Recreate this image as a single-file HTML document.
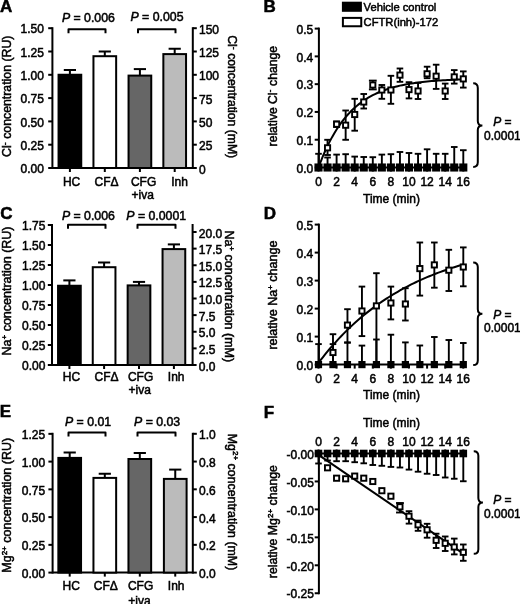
<!DOCTYPE html>
<html><head><meta charset="utf-8"><style>
html,body{margin:0;padding:0;background:#fff;overflow:hidden;}
svg{display:block;will-change:transform;}
text{font-family:"Liberation Sans", sans-serif;fill:#000;}
</style></head><body>
<svg width="520" height="604" viewBox="0 0 520 604">
<rect width="520" height="604" fill="#fff"/>
<text x="0.00" y="12.20" font-size="17" text-anchor="start" font-weight="bold" font-style="normal" stroke="#000" stroke-width="0.5">A</text>
<line x1="52.40" y1="27.20" x2="52.40" y2="169.00" stroke="#000" stroke-width="2.0"/>
<line x1="48.20" y1="168.00" x2="52.40" y2="168.00" stroke="#000" stroke-width="2.0"/>
<text x="43.90" y="173.20" font-size="12" text-anchor="end" font-weight="normal" font-style="normal" stroke="#000" stroke-width="0.5">0.00</text>
<line x1="48.20" y1="144.70" x2="52.40" y2="144.70" stroke="#000" stroke-width="2.0"/>
<text x="43.90" y="149.90" font-size="12" text-anchor="end" font-weight="normal" font-style="normal" stroke="#000" stroke-width="0.5">0.25</text>
<line x1="48.20" y1="121.40" x2="52.40" y2="121.40" stroke="#000" stroke-width="2.0"/>
<text x="43.90" y="126.60" font-size="12" text-anchor="end" font-weight="normal" font-style="normal" stroke="#000" stroke-width="0.5">0.50</text>
<line x1="48.20" y1="98.10" x2="52.40" y2="98.10" stroke="#000" stroke-width="2.0"/>
<text x="43.90" y="103.30" font-size="12" text-anchor="end" font-weight="normal" font-style="normal" stroke="#000" stroke-width="0.5">0.75</text>
<line x1="48.20" y1="74.80" x2="52.40" y2="74.80" stroke="#000" stroke-width="2.0"/>
<text x="43.90" y="80.00" font-size="12" text-anchor="end" font-weight="normal" font-style="normal" stroke="#000" stroke-width="0.5">1.00</text>
<line x1="48.20" y1="51.50" x2="52.40" y2="51.50" stroke="#000" stroke-width="2.0"/>
<text x="43.90" y="56.70" font-size="12" text-anchor="end" font-weight="normal" font-style="normal" stroke="#000" stroke-width="0.5">1.25</text>
<line x1="48.20" y1="28.20" x2="52.40" y2="28.20" stroke="#000" stroke-width="2.0"/>
<text x="43.90" y="33.40" font-size="12" text-anchor="end" font-weight="normal" font-style="normal" stroke="#000" stroke-width="0.5">1.50</text>
<line x1="192.80" y1="27.20" x2="192.80" y2="169.00" stroke="#000" stroke-width="2.0"/>
<line x1="192.80" y1="168.00" x2="196.80" y2="168.00" stroke="#000" stroke-width="2.0"/>
<text x="199.00" y="173.50" font-size="12" text-anchor="start" font-weight="normal" font-style="normal" stroke="#000" stroke-width="0.5">0</text>
<line x1="192.80" y1="144.70" x2="196.80" y2="144.70" stroke="#000" stroke-width="2.0"/>
<text x="199.00" y="150.20" font-size="12" text-anchor="start" font-weight="normal" font-style="normal" stroke="#000" stroke-width="0.5">25</text>
<line x1="192.80" y1="121.40" x2="196.80" y2="121.40" stroke="#000" stroke-width="2.0"/>
<text x="199.00" y="126.90" font-size="12" text-anchor="start" font-weight="normal" font-style="normal" stroke="#000" stroke-width="0.5">50</text>
<line x1="192.80" y1="98.10" x2="196.80" y2="98.10" stroke="#000" stroke-width="2.0"/>
<text x="199.00" y="103.60" font-size="12" text-anchor="start" font-weight="normal" font-style="normal" stroke="#000" stroke-width="0.5">75</text>
<line x1="192.80" y1="74.80" x2="196.80" y2="74.80" stroke="#000" stroke-width="2.0"/>
<text x="199.00" y="80.30" font-size="12" text-anchor="start" font-weight="normal" font-style="normal" stroke="#000" stroke-width="0.5">100</text>
<line x1="192.80" y1="51.50" x2="196.80" y2="51.50" stroke="#000" stroke-width="2.0"/>
<text x="199.00" y="57.00" font-size="12" text-anchor="start" font-weight="normal" font-style="normal" stroke="#000" stroke-width="0.5">125</text>
<line x1="192.80" y1="28.20" x2="196.80" y2="28.20" stroke="#000" stroke-width="2.0"/>
<text x="199.00" y="33.70" font-size="12" text-anchor="start" font-weight="normal" font-style="normal" stroke="#000" stroke-width="0.5">150</text>
<line x1="52.40" y1="168.00" x2="192.80" y2="168.00" stroke="#000" stroke-width="2.0"/>
<line x1="69.90" y1="168.00" x2="69.90" y2="172.00" stroke="#000" stroke-width="2.0"/>
<line x1="69.90" y1="74.75" x2="69.90" y2="70.00" stroke="#000" stroke-width="2.0"/>
<line x1="63.80" y1="70.00" x2="76.00" y2="70.00" stroke="#000" stroke-width="2.0"/>
<rect x="58.55" y="74.75" width="22.70" height="93.25" fill="#000" stroke="#000" stroke-width="2"/>
<line x1="104.80" y1="168.00" x2="104.80" y2="172.00" stroke="#000" stroke-width="2.0"/>
<line x1="104.80" y1="56.20" x2="104.80" y2="51.50" stroke="#000" stroke-width="2.0"/>
<line x1="98.70" y1="51.50" x2="110.90" y2="51.50" stroke="#000" stroke-width="2.0"/>
<rect x="93.45" y="56.20" width="22.70" height="111.80" fill="#fff" stroke="#000" stroke-width="2"/>
<line x1="139.90" y1="168.00" x2="139.90" y2="172.00" stroke="#000" stroke-width="2.0"/>
<line x1="139.90" y1="75.60" x2="139.90" y2="69.10" stroke="#000" stroke-width="2.0"/>
<line x1="133.80" y1="69.10" x2="146.00" y2="69.10" stroke="#000" stroke-width="2.0"/>
<rect x="128.55" y="75.60" width="22.70" height="92.40" fill="#666" stroke="#000" stroke-width="2"/>
<line x1="174.70" y1="168.00" x2="174.70" y2="172.00" stroke="#000" stroke-width="2.0"/>
<line x1="174.70" y1="54.10" x2="174.70" y2="48.75" stroke="#000" stroke-width="2.0"/>
<line x1="168.60" y1="48.75" x2="180.80" y2="48.75" stroke="#000" stroke-width="2.0"/>
<rect x="163.35" y="54.10" width="22.70" height="113.90" fill="#bbb" stroke="#000" stroke-width="2"/>
<polyline points="68.50,33.25 68.50,29.25 105.50,29.25 105.50,33.25" fill="none" stroke="#000" stroke-width="2.0" stroke-linejoin="round"/>
<polyline points="138.00,33.25 138.00,29.25 175.50,29.25 175.50,33.25" fill="none" stroke="#000" stroke-width="2.0" stroke-linejoin="round"/>
<text x="88.40" y="21.80" font-size="12.3" text-anchor="middle" font-weight="normal" font-style="normal" stroke="#000" stroke-width="0.5"><tspan font-style="italic">P</tspan> = 0.006</text>
<text x="157.00" y="20.60" font-size="12.3" text-anchor="middle" font-weight="normal" font-style="normal" stroke="#000" stroke-width="0.5"><tspan font-style="italic">P</tspan> = 0.005</text>
<text x="71.60" y="185.50" font-size="12" text-anchor="middle" font-weight="normal" font-style="normal" stroke="#000" stroke-width="0.5">HC</text>
<text x="106.50" y="185.50" font-size="12" text-anchor="middle" font-weight="normal" font-style="normal" stroke="#000" stroke-width="0.5">CF&#916;</text>
<text x="143.60" y="185.50" font-size="12" text-anchor="middle" font-weight="normal" font-style="normal" stroke="#000" stroke-width="0.5">CFG</text>
<text x="179.50" y="185.50" font-size="12" text-anchor="middle" font-weight="normal" font-style="normal" stroke="#000" stroke-width="0.5">Inh</text>
<text x="142.80" y="199.30" font-size="12" text-anchor="middle" font-weight="normal" font-style="normal" stroke="#000" stroke-width="0.5">+iva</text>
<text x="11.40" y="96.30" font-size="12.3" text-anchor="middle" font-weight="normal" font-style="normal" stroke="#000" stroke-width="0.5" transform="rotate(-90 11.40 96.30)">Cl<tspan dy="-3.4" font-size="9">-</tspan><tspan dy="3.4" font-size="12.5"> </tspan>concentration (RU)</text>
<text x="228.00" y="96.70" font-size="12.2" text-anchor="middle" font-weight="normal" font-style="normal" stroke="#000" stroke-width="0.5" transform="rotate(90 228.00 96.70)">Cl<tspan dy="-3.4" font-size="9">-</tspan><tspan dy="3.4" font-size="12.5"> </tspan>concentration (mM)</text>
<text x="0.25" y="218.70" font-size="17" text-anchor="start" font-weight="bold" font-style="normal" stroke="#000" stroke-width="0.5">C</text>
<line x1="52.00" y1="224.00" x2="52.00" y2="366.00" stroke="#000" stroke-width="2.0"/>
<line x1="47.80" y1="365.00" x2="52.00" y2="365.00" stroke="#000" stroke-width="2.0"/>
<text x="45.40" y="370.20" font-size="12" text-anchor="end" font-weight="normal" font-style="normal" stroke="#000" stroke-width="0.5">0.00</text>
<line x1="47.80" y1="345.00" x2="52.00" y2="345.00" stroke="#000" stroke-width="2.0"/>
<text x="45.40" y="350.20" font-size="12" text-anchor="end" font-weight="normal" font-style="normal" stroke="#000" stroke-width="0.5">0.25</text>
<line x1="47.80" y1="325.00" x2="52.00" y2="325.00" stroke="#000" stroke-width="2.0"/>
<text x="45.40" y="330.20" font-size="12" text-anchor="end" font-weight="normal" font-style="normal" stroke="#000" stroke-width="0.5">0.50</text>
<line x1="47.80" y1="305.00" x2="52.00" y2="305.00" stroke="#000" stroke-width="2.0"/>
<text x="45.40" y="310.20" font-size="12" text-anchor="end" font-weight="normal" font-style="normal" stroke="#000" stroke-width="0.5">0.75</text>
<line x1="47.80" y1="285.00" x2="52.00" y2="285.00" stroke="#000" stroke-width="2.0"/>
<text x="45.40" y="290.20" font-size="12" text-anchor="end" font-weight="normal" font-style="normal" stroke="#000" stroke-width="0.5">1.00</text>
<line x1="47.80" y1="265.00" x2="52.00" y2="265.00" stroke="#000" stroke-width="2.0"/>
<text x="45.40" y="270.20" font-size="12" text-anchor="end" font-weight="normal" font-style="normal" stroke="#000" stroke-width="0.5">1.25</text>
<line x1="47.80" y1="245.00" x2="52.00" y2="245.00" stroke="#000" stroke-width="2.0"/>
<text x="45.40" y="250.20" font-size="12" text-anchor="end" font-weight="normal" font-style="normal" stroke="#000" stroke-width="0.5">1.50</text>
<line x1="47.80" y1="225.00" x2="52.00" y2="225.00" stroke="#000" stroke-width="2.0"/>
<text x="45.40" y="230.20" font-size="12" text-anchor="end" font-weight="normal" font-style="normal" stroke="#000" stroke-width="0.5">1.75</text>
<line x1="192.60" y1="224.00" x2="192.60" y2="366.00" stroke="#000" stroke-width="2.0"/>
<line x1="192.60" y1="365.00" x2="196.60" y2="365.00" stroke="#000" stroke-width="2.0"/>
<text x="198.80" y="370.50" font-size="12" text-anchor="start" font-weight="normal" font-style="normal" stroke="#000" stroke-width="0.5">0.0</text>
<line x1="192.60" y1="348.38" x2="196.60" y2="348.38" stroke="#000" stroke-width="2.0"/>
<text x="198.80" y="353.88" font-size="12" text-anchor="start" font-weight="normal" font-style="normal" stroke="#000" stroke-width="0.5">2.5</text>
<line x1="192.60" y1="331.75" x2="196.60" y2="331.75" stroke="#000" stroke-width="2.0"/>
<text x="198.80" y="337.25" font-size="12" text-anchor="start" font-weight="normal" font-style="normal" stroke="#000" stroke-width="0.5">5.0</text>
<line x1="192.60" y1="315.12" x2="196.60" y2="315.12" stroke="#000" stroke-width="2.0"/>
<text x="198.80" y="320.62" font-size="12" text-anchor="start" font-weight="normal" font-style="normal" stroke="#000" stroke-width="0.5">7.5</text>
<line x1="192.60" y1="298.50" x2="196.60" y2="298.50" stroke="#000" stroke-width="2.0"/>
<text x="198.80" y="304.00" font-size="12" text-anchor="start" font-weight="normal" font-style="normal" stroke="#000" stroke-width="0.5">10.0</text>
<line x1="192.60" y1="281.88" x2="196.60" y2="281.88" stroke="#000" stroke-width="2.0"/>
<text x="198.80" y="287.38" font-size="12" text-anchor="start" font-weight="normal" font-style="normal" stroke="#000" stroke-width="0.5">12.5</text>
<line x1="192.60" y1="265.25" x2="196.60" y2="265.25" stroke="#000" stroke-width="2.0"/>
<text x="198.80" y="270.75" font-size="12" text-anchor="start" font-weight="normal" font-style="normal" stroke="#000" stroke-width="0.5">15.0</text>
<line x1="192.60" y1="248.62" x2="196.60" y2="248.62" stroke="#000" stroke-width="2.0"/>
<text x="198.80" y="254.12" font-size="12" text-anchor="start" font-weight="normal" font-style="normal" stroke="#000" stroke-width="0.5">17.5</text>
<line x1="192.60" y1="232.00" x2="196.60" y2="232.00" stroke="#000" stroke-width="2.0"/>
<text x="198.80" y="237.50" font-size="12" text-anchor="start" font-weight="normal" font-style="normal" stroke="#000" stroke-width="0.5">20.0</text>
<line x1="52.00" y1="365.00" x2="192.60" y2="365.00" stroke="#000" stroke-width="2.0"/>
<line x1="69.40" y1="365.00" x2="69.40" y2="369.00" stroke="#000" stroke-width="2.0"/>
<line x1="69.40" y1="285.75" x2="69.40" y2="280.40" stroke="#000" stroke-width="2.0"/>
<line x1="63.30" y1="280.40" x2="75.50" y2="280.40" stroke="#000" stroke-width="2.0"/>
<rect x="58.05" y="285.75" width="22.70" height="79.25" fill="#000" stroke="#000" stroke-width="2"/>
<line x1="104.10" y1="365.00" x2="104.10" y2="369.00" stroke="#000" stroke-width="2.0"/>
<line x1="104.10" y1="267.20" x2="104.10" y2="262.50" stroke="#000" stroke-width="2.0"/>
<line x1="98.00" y1="262.50" x2="110.20" y2="262.50" stroke="#000" stroke-width="2.0"/>
<rect x="92.75" y="267.20" width="22.70" height="97.80" fill="#fff" stroke="#000" stroke-width="2"/>
<line x1="139.00" y1="365.00" x2="139.00" y2="369.00" stroke="#000" stroke-width="2.0"/>
<line x1="139.00" y1="285.40" x2="139.00" y2="281.90" stroke="#000" stroke-width="2.0"/>
<line x1="132.90" y1="281.90" x2="145.10" y2="281.90" stroke="#000" stroke-width="2.0"/>
<rect x="127.65" y="285.40" width="22.70" height="79.60" fill="#666" stroke="#000" stroke-width="2"/>
<line x1="173.90" y1="365.00" x2="173.90" y2="369.00" stroke="#000" stroke-width="2.0"/>
<line x1="173.90" y1="249.10" x2="173.90" y2="244.40" stroke="#000" stroke-width="2.0"/>
<line x1="167.80" y1="244.40" x2="180.00" y2="244.40" stroke="#000" stroke-width="2.0"/>
<rect x="162.55" y="249.10" width="22.70" height="115.90" fill="#bbb" stroke="#000" stroke-width="2"/>
<polyline points="68.00,228.75 68.00,224.75 105.50,224.75 105.50,228.75" fill="none" stroke="#000" stroke-width="2.0" stroke-linejoin="round"/>
<polyline points="137.50,228.75 137.50,224.75 175.50,224.75 175.50,228.75" fill="none" stroke="#000" stroke-width="2.0" stroke-linejoin="round"/>
<text x="88.40" y="220.40" font-size="12.3" text-anchor="middle" font-weight="normal" font-style="normal" stroke="#000" stroke-width="0.5"><tspan font-style="italic">P</tspan> = 0.006</text>
<text x="156.20" y="220.40" font-size="12.3" text-anchor="middle" font-weight="normal" font-style="normal" stroke="#000" stroke-width="0.5"><tspan font-style="italic">P</tspan> = 0.0001</text>
<text x="71.50" y="380.80" font-size="12" text-anchor="middle" font-weight="normal" font-style="normal" stroke="#000" stroke-width="0.5">HC</text>
<text x="106.60" y="380.80" font-size="12" text-anchor="middle" font-weight="normal" font-style="normal" stroke="#000" stroke-width="0.5">CF&#916;</text>
<text x="140.60" y="380.80" font-size="12" text-anchor="middle" font-weight="normal" font-style="normal" stroke="#000" stroke-width="0.5">CFG</text>
<text x="176.20" y="380.80" font-size="12" text-anchor="middle" font-weight="normal" font-style="normal" stroke="#000" stroke-width="0.5">Inh</text>
<text x="139.70" y="394.30" font-size="12" text-anchor="middle" font-weight="normal" font-style="normal" stroke="#000" stroke-width="0.5">+iva</text>
<text x="11.40" y="291.00" font-size="12.5" text-anchor="middle" font-weight="normal" font-style="normal" stroke="#000" stroke-width="0.5" transform="rotate(-90 11.40 291.00)">Na<tspan dy="-4.2" font-size="8">+</tspan><tspan dy="4.2" font-size="12.5"> </tspan>concentration (RU)</text>
<text x="225.00" y="296.30" font-size="12.5" text-anchor="middle" font-weight="normal" font-style="normal" stroke="#000" stroke-width="0.5" transform="rotate(90 225.00 296.30)">Na<tspan dy="-4.2" font-size="8">+</tspan><tspan dy="4.2" font-size="12.5"> </tspan>concentration (mM)</text>
<text x="-0.24" y="417.20" font-size="17" text-anchor="start" font-weight="bold" font-style="normal" stroke="#000" stroke-width="0.5">E</text>
<line x1="52.60" y1="432.80" x2="52.60" y2="573.60" stroke="#000" stroke-width="2.0"/>
<line x1="48.40" y1="572.60" x2="52.60" y2="572.60" stroke="#000" stroke-width="2.0"/>
<text x="45.20" y="577.80" font-size="12" text-anchor="end" font-weight="normal" font-style="normal" stroke="#000" stroke-width="0.5">0.00</text>
<line x1="48.40" y1="544.85" x2="52.60" y2="544.85" stroke="#000" stroke-width="2.0"/>
<text x="45.20" y="550.05" font-size="12" text-anchor="end" font-weight="normal" font-style="normal" stroke="#000" stroke-width="0.5">0.25</text>
<line x1="48.40" y1="517.10" x2="52.60" y2="517.10" stroke="#000" stroke-width="2.0"/>
<text x="45.20" y="522.30" font-size="12" text-anchor="end" font-weight="normal" font-style="normal" stroke="#000" stroke-width="0.5">0.50</text>
<line x1="48.40" y1="489.35" x2="52.60" y2="489.35" stroke="#000" stroke-width="2.0"/>
<text x="45.20" y="494.55" font-size="12" text-anchor="end" font-weight="normal" font-style="normal" stroke="#000" stroke-width="0.5">0.75</text>
<line x1="48.40" y1="461.60" x2="52.60" y2="461.60" stroke="#000" stroke-width="2.0"/>
<text x="45.20" y="466.80" font-size="12" text-anchor="end" font-weight="normal" font-style="normal" stroke="#000" stroke-width="0.5">1.00</text>
<line x1="48.40" y1="433.85" x2="52.60" y2="433.85" stroke="#000" stroke-width="2.0"/>
<text x="45.20" y="439.05" font-size="12" text-anchor="end" font-weight="normal" font-style="normal" stroke="#000" stroke-width="0.5">1.25</text>
<line x1="192.80" y1="432.80" x2="192.80" y2="573.60" stroke="#000" stroke-width="2.0"/>
<line x1="192.80" y1="572.60" x2="196.80" y2="572.60" stroke="#000" stroke-width="2.0"/>
<text x="199.00" y="578.10" font-size="12" text-anchor="start" font-weight="normal" font-style="normal" stroke="#000" stroke-width="0.5">0.0</text>
<line x1="192.80" y1="544.84" x2="196.80" y2="544.84" stroke="#000" stroke-width="2.0"/>
<text x="199.00" y="550.34" font-size="12" text-anchor="start" font-weight="normal" font-style="normal" stroke="#000" stroke-width="0.5">0.2</text>
<line x1="192.80" y1="517.08" x2="196.80" y2="517.08" stroke="#000" stroke-width="2.0"/>
<text x="199.00" y="522.58" font-size="12" text-anchor="start" font-weight="normal" font-style="normal" stroke="#000" stroke-width="0.5">0.4</text>
<line x1="192.80" y1="489.32" x2="196.80" y2="489.32" stroke="#000" stroke-width="2.0"/>
<text x="199.00" y="494.82" font-size="12" text-anchor="start" font-weight="normal" font-style="normal" stroke="#000" stroke-width="0.5">0.6</text>
<line x1="192.80" y1="461.56" x2="196.80" y2="461.56" stroke="#000" stroke-width="2.0"/>
<text x="199.00" y="467.06" font-size="12" text-anchor="start" font-weight="normal" font-style="normal" stroke="#000" stroke-width="0.5">0.8</text>
<line x1="192.80" y1="433.80" x2="196.80" y2="433.80" stroke="#000" stroke-width="2.0"/>
<text x="199.00" y="439.30" font-size="12" text-anchor="start" font-weight="normal" font-style="normal" stroke="#000" stroke-width="0.5">1.0</text>
<line x1="52.60" y1="572.60" x2="192.80" y2="572.60" stroke="#000" stroke-width="2.0"/>
<line x1="69.70" y1="572.60" x2="69.70" y2="576.60" stroke="#000" stroke-width="2.0"/>
<line x1="69.70" y1="457.90" x2="69.70" y2="452.50" stroke="#000" stroke-width="2.0"/>
<line x1="63.60" y1="452.50" x2="75.80" y2="452.50" stroke="#000" stroke-width="2.0"/>
<rect x="58.35" y="457.90" width="22.70" height="114.70" fill="#000" stroke="#000" stroke-width="2"/>
<line x1="104.80" y1="572.60" x2="104.80" y2="576.60" stroke="#000" stroke-width="2.0"/>
<line x1="104.80" y1="477.90" x2="104.80" y2="473.75" stroke="#000" stroke-width="2.0"/>
<line x1="98.70" y1="473.75" x2="110.90" y2="473.75" stroke="#000" stroke-width="2.0"/>
<rect x="93.45" y="477.90" width="22.70" height="94.70" fill="#fff" stroke="#000" stroke-width="2"/>
<line x1="139.80" y1="572.60" x2="139.80" y2="576.60" stroke="#000" stroke-width="2.0"/>
<line x1="139.80" y1="459.00" x2="139.80" y2="453.00" stroke="#000" stroke-width="2.0"/>
<line x1="133.70" y1="453.00" x2="145.90" y2="453.00" stroke="#000" stroke-width="2.0"/>
<rect x="128.45" y="459.00" width="22.70" height="113.60" fill="#666" stroke="#000" stroke-width="2"/>
<line x1="175.25" y1="572.60" x2="175.25" y2="576.60" stroke="#000" stroke-width="2.0"/>
<line x1="175.25" y1="478.90" x2="175.25" y2="469.60" stroke="#000" stroke-width="2.0"/>
<line x1="169.15" y1="469.60" x2="181.35" y2="469.60" stroke="#000" stroke-width="2.0"/>
<rect x="163.90" y="478.90" width="22.70" height="93.70" fill="#bbb" stroke="#000" stroke-width="2"/>
<polyline points="68.50,436.50 68.50,432.50 105.50,432.50 105.50,436.50" fill="none" stroke="#000" stroke-width="2.0" stroke-linejoin="round"/>
<polyline points="137.50,436.50 137.50,432.50 175.50,432.50 175.50,436.50" fill="none" stroke="#000" stroke-width="2.0" stroke-linejoin="round"/>
<text x="88.00" y="426.40" font-size="12.3" text-anchor="middle" font-weight="normal" font-style="normal" stroke="#000" stroke-width="0.5"><tspan font-style="italic">P</tspan> = 0.01</text>
<text x="157.10" y="426.40" font-size="12.3" text-anchor="middle" font-weight="normal" font-style="normal" stroke="#000" stroke-width="0.5"><tspan font-style="italic">P</tspan> = 0.03</text>
<text x="71.20" y="589.80" font-size="12" text-anchor="middle" font-weight="normal" font-style="normal" stroke="#000" stroke-width="0.5">HC</text>
<text x="105.80" y="589.80" font-size="12" text-anchor="middle" font-weight="normal" font-style="normal" stroke="#000" stroke-width="0.5">CF&#916;</text>
<text x="140.60" y="589.80" font-size="12" text-anchor="middle" font-weight="normal" font-style="normal" stroke="#000" stroke-width="0.5">CFG</text>
<text x="176.20" y="589.80" font-size="12" text-anchor="middle" font-weight="normal" font-style="normal" stroke="#000" stroke-width="0.5">Inh</text>
<text x="139.50" y="604.50" font-size="12" text-anchor="middle" font-weight="normal" font-style="normal" stroke="#000" stroke-width="0.5">+iva</text>
<text x="11.40" y="505.30" font-size="12.5" text-anchor="middle" font-weight="normal" font-style="normal" stroke="#000" stroke-width="0.5" transform="rotate(-90 11.40 505.30)">Mg<tspan dy="-4.2" font-size="8">2+</tspan><tspan dy="4.2" font-size="12.5"> </tspan>concentration (RU)</text>
<text x="228.30" y="502.00" font-size="12.4" text-anchor="middle" font-weight="normal" font-style="normal" stroke="#000" stroke-width="0.5" transform="rotate(90 228.30 502.00)">Mg<tspan dy="-4.2" font-size="8">2+</tspan><tspan dy="4.2" font-size="12.5"> </tspan>concentration (mM)</text>
<text x="263.60" y="12.20" font-size="17" text-anchor="start" font-weight="bold" font-style="normal" stroke="#000" stroke-width="0.5">B</text>
<rect x="341.90" y="1.70" width="20.00" height="10.10" fill="#000"/>
<text x="363.60" y="11.20" font-size="11.2" text-anchor="start" font-weight="normal" font-style="normal" stroke="#000" stroke-width="0.5">Vehicle control</text>
<rect x="342.90" y="17.90" width="18.35" height="8.35" fill="#fff" stroke="#000" stroke-width="2"/>
<text x="363.60" y="25.90" font-size="11.2" text-anchor="start" font-weight="normal" font-style="normal" stroke="#000" stroke-width="0.5">CFTR(inh)-172</text>
<line x1="318.90" y1="27.60" x2="318.90" y2="168.50" stroke="#000" stroke-width="2.0"/>
<line x1="314.70" y1="167.50" x2="318.90" y2="167.50" stroke="#000" stroke-width="2.0"/>
<text x="313.30" y="172.70" font-size="12" text-anchor="end" font-weight="normal" font-style="normal" stroke="#000" stroke-width="0.5">0.0</text>
<line x1="314.70" y1="139.72" x2="318.90" y2="139.72" stroke="#000" stroke-width="2.0"/>
<text x="313.30" y="144.92" font-size="12" text-anchor="end" font-weight="normal" font-style="normal" stroke="#000" stroke-width="0.5">0.1</text>
<line x1="314.70" y1="111.94" x2="318.90" y2="111.94" stroke="#000" stroke-width="2.0"/>
<text x="313.30" y="117.14" font-size="12" text-anchor="end" font-weight="normal" font-style="normal" stroke="#000" stroke-width="0.5">0.2</text>
<line x1="314.70" y1="84.16" x2="318.90" y2="84.16" stroke="#000" stroke-width="2.0"/>
<text x="313.30" y="89.36" font-size="12" text-anchor="end" font-weight="normal" font-style="normal" stroke="#000" stroke-width="0.5">0.3</text>
<line x1="314.70" y1="56.38" x2="318.90" y2="56.38" stroke="#000" stroke-width="2.0"/>
<text x="313.30" y="61.58" font-size="12" text-anchor="end" font-weight="normal" font-style="normal" stroke="#000" stroke-width="0.5">0.4</text>
<line x1="314.70" y1="28.60" x2="318.90" y2="28.60" stroke="#000" stroke-width="2.0"/>
<text x="313.30" y="33.80" font-size="12" text-anchor="end" font-weight="normal" font-style="normal" stroke="#000" stroke-width="0.5">0.5</text>
<line x1="318.90" y1="167.50" x2="464.30" y2="167.50" stroke="#000" stroke-width="2.0"/>
<line x1="318.50" y1="167.50" x2="318.50" y2="171.50" stroke="#000" stroke-width="2.0"/>
<text x="318.50" y="185.80" font-size="12" text-anchor="middle" font-weight="normal" font-style="normal" stroke="#000" stroke-width="0.5">0</text>
<line x1="336.60" y1="167.50" x2="336.60" y2="171.50" stroke="#000" stroke-width="2.0"/>
<text x="336.60" y="185.80" font-size="12" text-anchor="middle" font-weight="normal" font-style="normal" stroke="#000" stroke-width="0.5">2</text>
<line x1="354.70" y1="167.50" x2="354.70" y2="171.50" stroke="#000" stroke-width="2.0"/>
<text x="354.70" y="185.80" font-size="12" text-anchor="middle" font-weight="normal" font-style="normal" stroke="#000" stroke-width="0.5">4</text>
<line x1="372.80" y1="167.50" x2="372.80" y2="171.50" stroke="#000" stroke-width="2.0"/>
<text x="372.80" y="185.80" font-size="12" text-anchor="middle" font-weight="normal" font-style="normal" stroke="#000" stroke-width="0.5">6</text>
<line x1="390.90" y1="167.50" x2="390.90" y2="171.50" stroke="#000" stroke-width="2.0"/>
<text x="390.90" y="185.80" font-size="12" text-anchor="middle" font-weight="normal" font-style="normal" stroke="#000" stroke-width="0.5">8</text>
<line x1="409.00" y1="167.50" x2="409.00" y2="171.50" stroke="#000" stroke-width="2.0"/>
<text x="409.00" y="185.80" font-size="12" text-anchor="middle" font-weight="normal" font-style="normal" stroke="#000" stroke-width="0.5">10</text>
<line x1="427.10" y1="167.50" x2="427.10" y2="171.50" stroke="#000" stroke-width="2.0"/>
<text x="427.10" y="185.80" font-size="12" text-anchor="middle" font-weight="normal" font-style="normal" stroke="#000" stroke-width="0.5">12</text>
<line x1="445.20" y1="167.50" x2="445.20" y2="171.50" stroke="#000" stroke-width="2.0"/>
<text x="445.20" y="185.80" font-size="12" text-anchor="middle" font-weight="normal" font-style="normal" stroke="#000" stroke-width="0.5">14</text>
<line x1="463.30" y1="167.50" x2="463.30" y2="171.50" stroke="#000" stroke-width="2.0"/>
<text x="463.30" y="185.80" font-size="12" text-anchor="middle" font-weight="normal" font-style="normal" stroke="#000" stroke-width="0.5">16</text>
<text x="391.50" y="203.00" font-size="12" text-anchor="middle" font-weight="normal" font-style="normal" stroke="#000" stroke-width="0.5">Time (min)</text>
<text x="276.80" y="96.25" font-size="12.15" text-anchor="middle" font-weight="normal" font-style="normal" stroke="#000" stroke-width="0.5" transform="rotate(-90 276.80 96.25)">relative Cl<tspan dy="-3.4" font-size="9">-</tspan><tspan dy="3.4" font-size="12.5"> </tspan>change</text>
<line x1="318.50" y1="167.50" x2="318.50" y2="153.80" stroke="#000" stroke-width="1.9"/>
<line x1="315.20" y1="153.80" x2="321.80" y2="153.80" stroke="#000" stroke-width="1.9"/>
<line x1="327.55" y1="167.50" x2="327.55" y2="157.50" stroke="#000" stroke-width="1.9"/>
<line x1="324.25" y1="157.50" x2="330.85" y2="157.50" stroke="#000" stroke-width="1.9"/>
<line x1="336.60" y1="167.50" x2="336.60" y2="154.60" stroke="#000" stroke-width="1.9"/>
<line x1="333.30" y1="154.60" x2="339.90" y2="154.60" stroke="#000" stroke-width="1.9"/>
<line x1="345.65" y1="167.50" x2="345.65" y2="154.20" stroke="#000" stroke-width="1.9"/>
<line x1="342.35" y1="154.20" x2="348.95" y2="154.20" stroke="#000" stroke-width="1.9"/>
<line x1="354.70" y1="167.50" x2="354.70" y2="156.60" stroke="#000" stroke-width="1.9"/>
<line x1="351.40" y1="156.60" x2="358.00" y2="156.60" stroke="#000" stroke-width="1.9"/>
<line x1="363.75" y1="167.50" x2="363.75" y2="157.00" stroke="#000" stroke-width="1.9"/>
<line x1="360.45" y1="157.00" x2="367.05" y2="157.00" stroke="#000" stroke-width="1.9"/>
<line x1="372.80" y1="167.50" x2="372.80" y2="157.20" stroke="#000" stroke-width="1.9"/>
<line x1="369.50" y1="157.20" x2="376.10" y2="157.20" stroke="#000" stroke-width="1.9"/>
<line x1="381.85" y1="167.50" x2="381.85" y2="154.60" stroke="#000" stroke-width="1.9"/>
<line x1="378.55" y1="154.60" x2="385.15" y2="154.60" stroke="#000" stroke-width="1.9"/>
<line x1="390.90" y1="167.50" x2="390.90" y2="154.20" stroke="#000" stroke-width="1.9"/>
<line x1="387.60" y1="154.20" x2="394.20" y2="154.20" stroke="#000" stroke-width="1.9"/>
<line x1="399.95" y1="167.50" x2="399.95" y2="152.00" stroke="#000" stroke-width="1.9"/>
<line x1="396.65" y1="152.00" x2="403.25" y2="152.00" stroke="#000" stroke-width="1.9"/>
<line x1="409.00" y1="167.50" x2="409.00" y2="153.00" stroke="#000" stroke-width="1.9"/>
<line x1="405.70" y1="153.00" x2="412.30" y2="153.00" stroke="#000" stroke-width="1.9"/>
<line x1="418.05" y1="167.50" x2="418.05" y2="153.80" stroke="#000" stroke-width="1.9"/>
<line x1="414.75" y1="153.80" x2="421.35" y2="153.80" stroke="#000" stroke-width="1.9"/>
<line x1="427.10" y1="167.50" x2="427.10" y2="149.30" stroke="#000" stroke-width="1.9"/>
<line x1="423.80" y1="149.30" x2="430.40" y2="149.30" stroke="#000" stroke-width="1.9"/>
<line x1="436.15" y1="167.50" x2="436.15" y2="153.80" stroke="#000" stroke-width="1.9"/>
<line x1="432.85" y1="153.80" x2="439.45" y2="153.80" stroke="#000" stroke-width="1.9"/>
<line x1="445.20" y1="167.50" x2="445.20" y2="153.80" stroke="#000" stroke-width="1.9"/>
<line x1="441.90" y1="153.80" x2="448.50" y2="153.80" stroke="#000" stroke-width="1.9"/>
<line x1="454.25" y1="167.50" x2="454.25" y2="147.00" stroke="#000" stroke-width="1.9"/>
<line x1="450.95" y1="147.00" x2="457.55" y2="147.00" stroke="#000" stroke-width="1.9"/>
<line x1="463.30" y1="167.50" x2="463.30" y2="150.20" stroke="#000" stroke-width="1.9"/>
<line x1="460.00" y1="150.20" x2="466.60" y2="150.20" stroke="#000" stroke-width="1.9"/>
<line x1="327.55" y1="139.80" x2="327.55" y2="155.00" stroke="#000" stroke-width="1.9"/>
<line x1="324.25" y1="139.80" x2="330.85" y2="139.80" stroke="#000" stroke-width="1.9"/>
<line x1="324.25" y1="155.00" x2="330.85" y2="155.00" stroke="#000" stroke-width="1.9"/>
<line x1="336.60" y1="121.50" x2="336.60" y2="127.00" stroke="#000" stroke-width="1.9"/>
<line x1="333.30" y1="121.50" x2="339.90" y2="121.50" stroke="#000" stroke-width="1.9"/>
<line x1="333.30" y1="127.00" x2="339.90" y2="127.00" stroke="#000" stroke-width="1.9"/>
<line x1="345.65" y1="110.50" x2="345.65" y2="139.80" stroke="#000" stroke-width="1.9"/>
<line x1="342.35" y1="110.50" x2="348.95" y2="110.50" stroke="#000" stroke-width="1.9"/>
<line x1="342.35" y1="139.80" x2="348.95" y2="139.80" stroke="#000" stroke-width="1.9"/>
<line x1="354.70" y1="98.80" x2="354.70" y2="130.70" stroke="#000" stroke-width="1.9"/>
<line x1="351.40" y1="98.80" x2="358.00" y2="98.80" stroke="#000" stroke-width="1.9"/>
<line x1="351.40" y1="130.70" x2="358.00" y2="130.70" stroke="#000" stroke-width="1.9"/>
<line x1="363.75" y1="94.00" x2="363.75" y2="108.50" stroke="#000" stroke-width="1.9"/>
<line x1="360.45" y1="94.00" x2="367.05" y2="94.00" stroke="#000" stroke-width="1.9"/>
<line x1="360.45" y1="108.50" x2="367.05" y2="108.50" stroke="#000" stroke-width="1.9"/>
<line x1="372.80" y1="80.60" x2="372.80" y2="89.40" stroke="#000" stroke-width="1.9"/>
<line x1="368.90" y1="80.60" x2="376.70" y2="80.60" stroke="#000" stroke-width="1.9"/>
<line x1="368.90" y1="89.40" x2="376.70" y2="89.40" stroke="#000" stroke-width="1.9"/>
<line x1="381.85" y1="85.00" x2="381.85" y2="98.80" stroke="#000" stroke-width="1.9"/>
<line x1="378.55" y1="85.00" x2="385.15" y2="85.00" stroke="#000" stroke-width="1.9"/>
<line x1="378.55" y1="98.80" x2="385.15" y2="98.80" stroke="#000" stroke-width="1.9"/>
<line x1="390.90" y1="75.80" x2="390.90" y2="103.80" stroke="#000" stroke-width="1.9"/>
<line x1="387.60" y1="75.80" x2="394.20" y2="75.80" stroke="#000" stroke-width="1.9"/>
<line x1="387.60" y1="103.80" x2="394.20" y2="103.80" stroke="#000" stroke-width="1.9"/>
<line x1="399.95" y1="68.50" x2="399.95" y2="81.80" stroke="#000" stroke-width="1.9"/>
<line x1="396.65" y1="68.50" x2="403.25" y2="68.50" stroke="#000" stroke-width="1.9"/>
<line x1="396.65" y1="81.80" x2="403.25" y2="81.80" stroke="#000" stroke-width="1.9"/>
<line x1="409.00" y1="82.20" x2="409.00" y2="98.40" stroke="#000" stroke-width="1.9"/>
<line x1="405.70" y1="82.20" x2="412.30" y2="82.20" stroke="#000" stroke-width="1.9"/>
<line x1="405.70" y1="98.40" x2="412.30" y2="98.40" stroke="#000" stroke-width="1.9"/>
<line x1="418.05" y1="82.90" x2="418.05" y2="99.00" stroke="#000" stroke-width="1.9"/>
<line x1="414.75" y1="82.90" x2="421.35" y2="82.90" stroke="#000" stroke-width="1.9"/>
<line x1="414.75" y1="99.00" x2="421.35" y2="99.00" stroke="#000" stroke-width="1.9"/>
<line x1="427.10" y1="66.70" x2="427.10" y2="78.20" stroke="#000" stroke-width="1.9"/>
<line x1="423.80" y1="66.70" x2="430.40" y2="66.70" stroke="#000" stroke-width="1.9"/>
<line x1="423.80" y1="78.20" x2="430.40" y2="78.20" stroke="#000" stroke-width="1.9"/>
<line x1="436.15" y1="64.70" x2="436.15" y2="88.90" stroke="#000" stroke-width="1.9"/>
<line x1="432.85" y1="64.70" x2="439.45" y2="64.70" stroke="#000" stroke-width="1.9"/>
<line x1="432.85" y1="88.90" x2="439.45" y2="88.90" stroke="#000" stroke-width="1.9"/>
<line x1="445.20" y1="83.60" x2="445.20" y2="99.00" stroke="#000" stroke-width="1.9"/>
<line x1="441.90" y1="83.60" x2="448.50" y2="83.60" stroke="#000" stroke-width="1.9"/>
<line x1="441.90" y1="99.00" x2="448.50" y2="99.00" stroke="#000" stroke-width="1.9"/>
<line x1="454.25" y1="70.10" x2="454.25" y2="83.60" stroke="#000" stroke-width="1.9"/>
<line x1="450.95" y1="70.10" x2="457.55" y2="70.10" stroke="#000" stroke-width="1.9"/>
<line x1="450.95" y1="83.60" x2="457.55" y2="83.60" stroke="#000" stroke-width="1.9"/>
<line x1="463.30" y1="71.40" x2="463.30" y2="87.60" stroke="#000" stroke-width="1.9"/>
<line x1="460.00" y1="71.40" x2="466.60" y2="71.40" stroke="#000" stroke-width="1.9"/>
<line x1="460.00" y1="87.60" x2="466.60" y2="87.60" stroke="#000" stroke-width="1.9"/>
<polyline points="318.50,167.50 320.76,161.52 323.02,155.95 325.29,150.74 327.55,145.89 329.81,141.36 332.07,137.14 334.34,133.19 336.60,129.52 338.86,126.09 341.12,122.88 343.39,119.90 345.65,117.11 347.91,114.51 350.18,112.08 352.44,109.82 354.70,107.71 356.96,105.74 359.23,103.90 361.49,102.18 363.75,100.58 366.01,99.09 368.27,97.70 370.54,96.40 372.80,95.18 375.06,94.05 377.32,93.00 379.59,92.01 381.85,91.09 384.11,90.24 386.38,89.44 388.64,88.69 390.90,87.99 393.16,87.34 395.43,86.74 397.69,86.17 399.95,85.65 402.21,85.15 404.48,84.69 406.74,84.27 409.00,83.87 411.26,83.49 413.52,83.14 415.79,82.82 418.05,82.52 420.31,82.23 422.57,81.97 424.84,81.72 427.10,81.50 429.36,81.28 431.62,81.08 433.89,80.89 436.15,80.72 438.41,80.56 440.68,80.41 442.94,80.27 445.20,80.13 447.46,80.01 449.73,79.90 451.99,79.79 454.25,79.69 456.51,79.60 458.77,79.51 461.04,79.43 463.30,79.35" fill="none" stroke="#000" stroke-width="2.0" stroke-linejoin="round"/>
<rect x="314.45" y="163.45" width="8.10" height="8.10" fill="#000"/>
<rect x="323.50" y="163.45" width="8.10" height="8.10" fill="#000"/>
<rect x="332.55" y="163.45" width="8.10" height="8.10" fill="#000"/>
<rect x="341.60" y="163.45" width="8.10" height="8.10" fill="#000"/>
<rect x="350.65" y="163.45" width="8.10" height="8.10" fill="#000"/>
<rect x="359.70" y="163.45" width="8.10" height="8.10" fill="#000"/>
<rect x="368.75" y="163.45" width="8.10" height="8.10" fill="#000"/>
<rect x="377.80" y="163.45" width="8.10" height="8.10" fill="#000"/>
<rect x="386.85" y="163.45" width="8.10" height="8.10" fill="#000"/>
<rect x="395.90" y="163.45" width="8.10" height="8.10" fill="#000"/>
<rect x="404.95" y="163.45" width="8.10" height="8.10" fill="#000"/>
<rect x="414.00" y="163.45" width="8.10" height="8.10" fill="#000"/>
<rect x="423.05" y="163.45" width="8.10" height="8.10" fill="#000"/>
<rect x="432.10" y="163.45" width="8.10" height="8.10" fill="#000"/>
<rect x="441.15" y="163.45" width="8.10" height="8.10" fill="#000"/>
<rect x="450.20" y="163.45" width="8.10" height="8.10" fill="#000"/>
<rect x="459.25" y="163.45" width="8.10" height="8.10" fill="#000"/>
<rect x="324.95" y="145.20" width="5.20" height="5.20" fill="#fff" stroke="#000" stroke-width="1.9"/>
<rect x="334.00" y="121.60" width="5.20" height="5.20" fill="#fff" stroke="#000" stroke-width="1.9"/>
<rect x="343.05" y="122.60" width="5.20" height="5.20" fill="#fff" stroke="#000" stroke-width="1.9"/>
<rect x="352.10" y="111.90" width="5.20" height="5.20" fill="#fff" stroke="#000" stroke-width="1.9"/>
<rect x="361.15" y="99.40" width="5.20" height="5.20" fill="#fff" stroke="#000" stroke-width="1.9"/>
<rect x="370.20" y="82.40" width="5.20" height="5.20" fill="#fff" stroke="#000" stroke-width="1.9"/>
<rect x="379.25" y="87.40" width="5.20" height="5.20" fill="#fff" stroke="#000" stroke-width="1.9"/>
<rect x="388.30" y="87.40" width="5.20" height="5.20" fill="#fff" stroke="#000" stroke-width="1.9"/>
<rect x="397.35" y="72.50" width="5.20" height="5.20" fill="#fff" stroke="#000" stroke-width="1.9"/>
<rect x="406.40" y="87.00" width="5.20" height="5.20" fill="#fff" stroke="#000" stroke-width="1.9"/>
<rect x="415.45" y="88.40" width="5.20" height="5.20" fill="#fff" stroke="#000" stroke-width="1.9"/>
<rect x="424.50" y="71.20" width="5.20" height="5.20" fill="#fff" stroke="#000" stroke-width="1.9"/>
<rect x="433.55" y="73.60" width="5.20" height="5.20" fill="#fff" stroke="#000" stroke-width="1.9"/>
<rect x="442.60" y="88.40" width="5.20" height="5.20" fill="#fff" stroke="#000" stroke-width="1.9"/>
<rect x="451.65" y="74.30" width="5.20" height="5.20" fill="#fff" stroke="#000" stroke-width="1.9"/>
<rect x="460.70" y="76.30" width="5.20" height="5.20" fill="#fff" stroke="#000" stroke-width="1.9"/>
<path d="M473.20,83.30 Q477.80,83.30 477.80,87.90 L477.80,120.90 Q477.80,125.50 482.40,125.50 Q477.80,125.50 477.80,130.10 L477.80,162.30 Q477.80,166.90 473.20,166.90" fill="none" stroke="#000" stroke-width="2"/>
<text x="493.20" y="125.80" font-size="12" text-anchor="start" font-weight="normal" font-style="normal" stroke="#000" stroke-width="0.5"><tspan font-style="italic">P</tspan> =</text>
<text x="484.10" y="139.70" font-size="12" text-anchor="start" font-weight="normal" font-style="normal" stroke="#000" stroke-width="0.5">0.0001</text>
<text x="263.80" y="218.50" font-size="17" text-anchor="start" font-weight="bold" font-style="normal" stroke="#000" stroke-width="0.5">D</text>
<line x1="318.90" y1="223.60" x2="318.90" y2="365.60" stroke="#000" stroke-width="2.0"/>
<line x1="314.70" y1="364.60" x2="318.90" y2="364.60" stroke="#000" stroke-width="2.0"/>
<text x="313.30" y="369.80" font-size="12" text-anchor="end" font-weight="normal" font-style="normal" stroke="#000" stroke-width="0.5">0.0</text>
<line x1="314.70" y1="336.60" x2="318.90" y2="336.60" stroke="#000" stroke-width="2.0"/>
<text x="313.30" y="341.80" font-size="12" text-anchor="end" font-weight="normal" font-style="normal" stroke="#000" stroke-width="0.5">0.1</text>
<line x1="314.70" y1="308.60" x2="318.90" y2="308.60" stroke="#000" stroke-width="2.0"/>
<text x="313.30" y="313.80" font-size="12" text-anchor="end" font-weight="normal" font-style="normal" stroke="#000" stroke-width="0.5">0.2</text>
<line x1="314.70" y1="280.60" x2="318.90" y2="280.60" stroke="#000" stroke-width="2.0"/>
<text x="313.30" y="285.80" font-size="12" text-anchor="end" font-weight="normal" font-style="normal" stroke="#000" stroke-width="0.5">0.3</text>
<line x1="314.70" y1="252.60" x2="318.90" y2="252.60" stroke="#000" stroke-width="2.0"/>
<text x="313.30" y="257.80" font-size="12" text-anchor="end" font-weight="normal" font-style="normal" stroke="#000" stroke-width="0.5">0.4</text>
<line x1="314.70" y1="224.60" x2="318.90" y2="224.60" stroke="#000" stroke-width="2.0"/>
<text x="313.30" y="229.80" font-size="12" text-anchor="end" font-weight="normal" font-style="normal" stroke="#000" stroke-width="0.5">0.5</text>
<line x1="318.90" y1="364.60" x2="464.30" y2="364.60" stroke="#000" stroke-width="2.0"/>
<line x1="318.50" y1="364.60" x2="318.50" y2="368.60" stroke="#000" stroke-width="2.0"/>
<text x="318.50" y="382.50" font-size="12" text-anchor="middle" font-weight="normal" font-style="normal" stroke="#000" stroke-width="0.5">0</text>
<line x1="336.60" y1="364.60" x2="336.60" y2="368.60" stroke="#000" stroke-width="2.0"/>
<text x="336.60" y="382.50" font-size="12" text-anchor="middle" font-weight="normal" font-style="normal" stroke="#000" stroke-width="0.5">2</text>
<line x1="354.70" y1="364.60" x2="354.70" y2="368.60" stroke="#000" stroke-width="2.0"/>
<text x="354.70" y="382.50" font-size="12" text-anchor="middle" font-weight="normal" font-style="normal" stroke="#000" stroke-width="0.5">4</text>
<line x1="372.80" y1="364.60" x2="372.80" y2="368.60" stroke="#000" stroke-width="2.0"/>
<text x="372.80" y="382.50" font-size="12" text-anchor="middle" font-weight="normal" font-style="normal" stroke="#000" stroke-width="0.5">6</text>
<line x1="390.90" y1="364.60" x2="390.90" y2="368.60" stroke="#000" stroke-width="2.0"/>
<text x="390.90" y="382.50" font-size="12" text-anchor="middle" font-weight="normal" font-style="normal" stroke="#000" stroke-width="0.5">8</text>
<line x1="409.00" y1="364.60" x2="409.00" y2="368.60" stroke="#000" stroke-width="2.0"/>
<text x="409.00" y="382.50" font-size="12" text-anchor="middle" font-weight="normal" font-style="normal" stroke="#000" stroke-width="0.5">10</text>
<line x1="427.10" y1="364.60" x2="427.10" y2="368.60" stroke="#000" stroke-width="2.0"/>
<text x="427.10" y="382.50" font-size="12" text-anchor="middle" font-weight="normal" font-style="normal" stroke="#000" stroke-width="0.5">12</text>
<line x1="445.20" y1="364.60" x2="445.20" y2="368.60" stroke="#000" stroke-width="2.0"/>
<text x="445.20" y="382.50" font-size="12" text-anchor="middle" font-weight="normal" font-style="normal" stroke="#000" stroke-width="0.5">14</text>
<line x1="463.30" y1="364.60" x2="463.30" y2="368.60" stroke="#000" stroke-width="2.0"/>
<text x="463.30" y="382.50" font-size="12" text-anchor="middle" font-weight="normal" font-style="normal" stroke="#000" stroke-width="0.5">16</text>
<text x="391.50" y="398.70" font-size="12" text-anchor="middle" font-weight="normal" font-style="normal" stroke="#000" stroke-width="0.5">Time (min)</text>
<text x="276.80" y="295.10" font-size="12.5" text-anchor="middle" font-weight="normal" font-style="normal" stroke="#000" stroke-width="0.5" transform="rotate(-90 276.80 295.10)">relative Na<tspan dy="-4.2" font-size="8">+</tspan><tspan dy="4.2" font-size="12.5"> </tspan>change</text>
<line x1="318.50" y1="364.60" x2="318.50" y2="344.10" stroke="#000" stroke-width="1.9"/>
<line x1="315.20" y1="344.10" x2="321.80" y2="344.10" stroke="#000" stroke-width="1.9"/>
<line x1="332.98" y1="364.60" x2="332.98" y2="344.10" stroke="#000" stroke-width="1.9"/>
<line x1="329.68" y1="344.10" x2="336.28" y2="344.10" stroke="#000" stroke-width="1.9"/>
<line x1="347.46" y1="364.60" x2="347.46" y2="342.70" stroke="#000" stroke-width="1.9"/>
<line x1="344.16" y1="342.70" x2="350.76" y2="342.70" stroke="#000" stroke-width="1.9"/>
<line x1="361.94" y1="364.60" x2="361.94" y2="345.60" stroke="#000" stroke-width="1.9"/>
<line x1="358.64" y1="345.60" x2="365.24" y2="345.60" stroke="#000" stroke-width="1.9"/>
<line x1="376.42" y1="364.60" x2="376.42" y2="339.50" stroke="#000" stroke-width="1.9"/>
<line x1="373.12" y1="339.50" x2="379.72" y2="339.50" stroke="#000" stroke-width="1.9"/>
<line x1="390.90" y1="364.60" x2="390.90" y2="334.70" stroke="#000" stroke-width="1.9"/>
<line x1="387.60" y1="334.70" x2="394.20" y2="334.70" stroke="#000" stroke-width="1.9"/>
<line x1="405.38" y1="364.60" x2="405.38" y2="342.40" stroke="#000" stroke-width="1.9"/>
<line x1="402.08" y1="342.40" x2="408.68" y2="342.40" stroke="#000" stroke-width="1.9"/>
<line x1="419.86" y1="364.60" x2="419.86" y2="345.50" stroke="#000" stroke-width="1.9"/>
<line x1="416.56" y1="345.50" x2="423.16" y2="345.50" stroke="#000" stroke-width="1.9"/>
<line x1="434.34" y1="364.60" x2="434.34" y2="337.00" stroke="#000" stroke-width="1.9"/>
<line x1="431.04" y1="337.00" x2="437.64" y2="337.00" stroke="#000" stroke-width="1.9"/>
<line x1="448.82" y1="364.60" x2="448.82" y2="340.00" stroke="#000" stroke-width="1.9"/>
<line x1="445.52" y1="340.00" x2="452.12" y2="340.00" stroke="#000" stroke-width="1.9"/>
<line x1="463.30" y1="364.60" x2="463.30" y2="343.00" stroke="#000" stroke-width="1.9"/>
<line x1="460.00" y1="343.00" x2="466.60" y2="343.00" stroke="#000" stroke-width="1.9"/>
<line x1="332.98" y1="334.20" x2="332.98" y2="364.00" stroke="#000" stroke-width="1.9"/>
<line x1="329.68" y1="334.20" x2="336.28" y2="334.20" stroke="#000" stroke-width="1.9"/>
<line x1="329.68" y1="364.00" x2="336.28" y2="364.00" stroke="#000" stroke-width="1.9"/>
<line x1="347.46" y1="309.20" x2="347.46" y2="342.40" stroke="#000" stroke-width="1.9"/>
<line x1="344.16" y1="309.20" x2="350.76" y2="309.20" stroke="#000" stroke-width="1.9"/>
<line x1="344.16" y1="342.40" x2="350.76" y2="342.40" stroke="#000" stroke-width="1.9"/>
<line x1="361.94" y1="286.60" x2="361.94" y2="336.10" stroke="#000" stroke-width="1.9"/>
<line x1="358.64" y1="286.60" x2="365.24" y2="286.60" stroke="#000" stroke-width="1.9"/>
<line x1="358.64" y1="336.10" x2="365.24" y2="336.10" stroke="#000" stroke-width="1.9"/>
<line x1="376.42" y1="273.20" x2="376.42" y2="364.00" stroke="#000" stroke-width="1.9"/>
<line x1="373.12" y1="273.20" x2="379.72" y2="273.20" stroke="#000" stroke-width="1.9"/>
<line x1="373.12" y1="364.00" x2="379.72" y2="364.00" stroke="#000" stroke-width="1.9"/>
<line x1="390.90" y1="286.60" x2="390.90" y2="319.40" stroke="#000" stroke-width="1.9"/>
<line x1="387.60" y1="286.60" x2="394.20" y2="286.60" stroke="#000" stroke-width="1.9"/>
<line x1="387.60" y1="319.40" x2="394.20" y2="319.40" stroke="#000" stroke-width="1.9"/>
<line x1="405.38" y1="288.20" x2="405.38" y2="320.50" stroke="#000" stroke-width="1.9"/>
<line x1="402.08" y1="288.20" x2="408.68" y2="288.20" stroke="#000" stroke-width="1.9"/>
<line x1="402.08" y1="320.50" x2="408.68" y2="320.50" stroke="#000" stroke-width="1.9"/>
<line x1="419.86" y1="242.50" x2="419.86" y2="295.60" stroke="#000" stroke-width="1.9"/>
<line x1="416.56" y1="242.50" x2="423.16" y2="242.50" stroke="#000" stroke-width="1.9"/>
<line x1="416.56" y1="295.60" x2="423.16" y2="295.60" stroke="#000" stroke-width="1.9"/>
<line x1="434.34" y1="242.50" x2="434.34" y2="287.70" stroke="#000" stroke-width="1.9"/>
<line x1="431.04" y1="242.50" x2="437.64" y2="242.50" stroke="#000" stroke-width="1.9"/>
<line x1="431.04" y1="287.70" x2="437.64" y2="287.70" stroke="#000" stroke-width="1.9"/>
<line x1="448.82" y1="249.80" x2="448.82" y2="291.00" stroke="#000" stroke-width="1.9"/>
<line x1="445.52" y1="249.80" x2="452.12" y2="249.80" stroke="#000" stroke-width="1.9"/>
<line x1="445.52" y1="291.00" x2="452.12" y2="291.00" stroke="#000" stroke-width="1.9"/>
<line x1="463.30" y1="247.40" x2="463.30" y2="286.30" stroke="#000" stroke-width="1.9"/>
<line x1="460.00" y1="247.40" x2="466.60" y2="247.40" stroke="#000" stroke-width="1.9"/>
<line x1="460.00" y1="286.30" x2="466.60" y2="286.30" stroke="#000" stroke-width="1.9"/>
<polyline points="318.50,362.87 320.76,359.91 323.02,357.03 325.29,354.21 327.55,351.45 329.81,348.76 332.07,346.14 334.34,343.58 336.60,341.07 338.86,338.63 341.12,336.24 343.39,333.91 345.65,331.63 347.91,329.41 350.18,327.24 352.44,325.11 354.70,323.04 356.96,321.02 359.23,319.05 361.49,317.12 363.75,315.24 366.01,313.40 368.27,311.60 370.54,309.85 372.80,308.14 375.06,306.46 377.32,304.83 379.59,303.24 381.85,301.68 384.11,300.16 386.38,298.67 388.64,297.22 390.90,295.81 393.16,294.43 395.43,293.07 397.69,291.76 399.95,290.47 402.21,289.21 404.48,287.98 406.74,286.78 409.00,285.61 411.26,284.47 413.52,283.35 415.79,282.26 418.05,281.20 420.31,280.16 422.57,279.14 424.84,278.15 427.10,277.18 429.36,276.24 431.62,275.31 433.89,274.41 436.15,273.53 438.41,272.67 440.68,271.83 442.94,271.01 445.20,270.21 447.46,269.43 449.73,268.66 451.99,267.92 454.25,267.19 456.51,266.48 458.77,265.79 461.04,265.11 463.30,264.45" fill="none" stroke="#000" stroke-width="2.0" stroke-linejoin="round"/>
<rect x="314.90" y="361.00" width="7.20" height="7.20" fill="#000"/>
<rect x="329.38" y="361.00" width="7.20" height="7.20" fill="#000"/>
<rect x="343.86" y="361.00" width="7.20" height="7.20" fill="#000"/>
<rect x="358.34" y="361.00" width="7.20" height="7.20" fill="#000"/>
<rect x="372.82" y="361.00" width="7.20" height="7.20" fill="#000"/>
<rect x="387.30" y="361.00" width="7.20" height="7.20" fill="#000"/>
<rect x="401.78" y="361.00" width="7.20" height="7.20" fill="#000"/>
<rect x="416.26" y="361.00" width="7.20" height="7.20" fill="#000"/>
<rect x="430.74" y="361.00" width="7.20" height="7.20" fill="#000"/>
<rect x="445.22" y="361.00" width="7.20" height="7.20" fill="#000"/>
<rect x="459.70" y="361.00" width="7.20" height="7.20" fill="#000"/>
<rect x="330.38" y="349.90" width="5.20" height="5.20" fill="#fff" stroke="#000" stroke-width="1.9"/>
<rect x="344.86" y="322.50" width="5.20" height="5.20" fill="#fff" stroke="#000" stroke-width="1.9"/>
<rect x="359.34" y="308.40" width="5.20" height="5.20" fill="#fff" stroke="#000" stroke-width="1.9"/>
<rect x="373.82" y="303.30" width="5.20" height="5.20" fill="#fff" stroke="#000" stroke-width="1.9"/>
<rect x="388.30" y="300.40" width="5.20" height="5.20" fill="#fff" stroke="#000" stroke-width="1.9"/>
<rect x="402.78" y="301.40" width="5.20" height="5.20" fill="#fff" stroke="#000" stroke-width="1.9"/>
<rect x="417.26" y="266.00" width="5.20" height="5.20" fill="#fff" stroke="#000" stroke-width="1.9"/>
<rect x="431.74" y="262.30" width="5.20" height="5.20" fill="#fff" stroke="#000" stroke-width="1.9"/>
<rect x="446.22" y="267.60" width="5.20" height="5.20" fill="#fff" stroke="#000" stroke-width="1.9"/>
<rect x="460.70" y="264.40" width="5.20" height="5.20" fill="#fff" stroke="#000" stroke-width="1.9"/>
<path d="M473.20,262.50 Q477.80,262.50 477.80,267.10 L477.80,309.15 Q477.80,313.75 482.40,313.75 Q477.80,313.75 477.80,318.35 L477.80,360.40 Q477.80,365.00 473.20,365.00" fill="none" stroke="#000" stroke-width="2"/>
<text x="493.20" y="318.50" font-size="12" text-anchor="start" font-weight="normal" font-style="normal" stroke="#000" stroke-width="0.5"><tspan font-style="italic">P</tspan> =</text>
<text x="484.10" y="332.00" font-size="12" text-anchor="start" font-weight="normal" font-style="normal" stroke="#000" stroke-width="0.5">0.0001</text>
<text x="263.80" y="417.50" font-size="17" text-anchor="start" font-weight="bold" font-style="normal" stroke="#000" stroke-width="0.5">F</text>
<text x="391.50" y="427.20" font-size="12" text-anchor="middle" font-weight="normal" font-style="normal" stroke="#000" stroke-width="0.5">Time (min)</text>
<line x1="318.90" y1="452.50" x2="318.90" y2="594.25" stroke="#000" stroke-width="2.0"/>
<line x1="314.70" y1="453.50" x2="318.90" y2="453.50" stroke="#000" stroke-width="2.0"/>
<text x="313.90" y="458.70" font-size="12" text-anchor="end" font-weight="normal" font-style="normal" stroke="#000" stroke-width="0.5">-0.00</text>
<line x1="314.70" y1="481.45" x2="318.90" y2="481.45" stroke="#000" stroke-width="2.0"/>
<text x="313.90" y="486.65" font-size="12" text-anchor="end" font-weight="normal" font-style="normal" stroke="#000" stroke-width="0.5">-0.05</text>
<line x1="314.70" y1="509.40" x2="318.90" y2="509.40" stroke="#000" stroke-width="2.0"/>
<text x="313.90" y="514.60" font-size="12" text-anchor="end" font-weight="normal" font-style="normal" stroke="#000" stroke-width="0.5">-0.10</text>
<line x1="314.70" y1="537.35" x2="318.90" y2="537.35" stroke="#000" stroke-width="2.0"/>
<text x="313.90" y="542.55" font-size="12" text-anchor="end" font-weight="normal" font-style="normal" stroke="#000" stroke-width="0.5">-0.15</text>
<line x1="314.70" y1="565.30" x2="318.90" y2="565.30" stroke="#000" stroke-width="2.0"/>
<text x="313.90" y="570.50" font-size="12" text-anchor="end" font-weight="normal" font-style="normal" stroke="#000" stroke-width="0.5">-0.20</text>
<line x1="314.70" y1="593.25" x2="318.90" y2="593.25" stroke="#000" stroke-width="2.0"/>
<text x="313.90" y="598.45" font-size="12" text-anchor="end" font-weight="normal" font-style="normal" stroke="#000" stroke-width="0.5">-0.25</text>
<line x1="318.90" y1="453.50" x2="464.30" y2="453.50" stroke="#000" stroke-width="2.0"/>
<line x1="318.50" y1="453.50" x2="318.50" y2="449.50" stroke="#000" stroke-width="2.0"/>
<text x="318.50" y="446.30" font-size="12" text-anchor="middle" font-weight="normal" font-style="normal" stroke="#000" stroke-width="0.5">0</text>
<line x1="336.60" y1="453.50" x2="336.60" y2="449.50" stroke="#000" stroke-width="2.0"/>
<text x="336.60" y="446.30" font-size="12" text-anchor="middle" font-weight="normal" font-style="normal" stroke="#000" stroke-width="0.5">2</text>
<line x1="354.70" y1="453.50" x2="354.70" y2="449.50" stroke="#000" stroke-width="2.0"/>
<text x="354.70" y="446.30" font-size="12" text-anchor="middle" font-weight="normal" font-style="normal" stroke="#000" stroke-width="0.5">4</text>
<line x1="372.80" y1="453.50" x2="372.80" y2="449.50" stroke="#000" stroke-width="2.0"/>
<text x="372.80" y="446.30" font-size="12" text-anchor="middle" font-weight="normal" font-style="normal" stroke="#000" stroke-width="0.5">6</text>
<line x1="390.90" y1="453.50" x2="390.90" y2="449.50" stroke="#000" stroke-width="2.0"/>
<text x="390.90" y="446.30" font-size="12" text-anchor="middle" font-weight="normal" font-style="normal" stroke="#000" stroke-width="0.5">8</text>
<line x1="409.00" y1="453.50" x2="409.00" y2="449.50" stroke="#000" stroke-width="2.0"/>
<text x="409.00" y="446.30" font-size="12" text-anchor="middle" font-weight="normal" font-style="normal" stroke="#000" stroke-width="0.5">10</text>
<line x1="427.10" y1="453.50" x2="427.10" y2="449.50" stroke="#000" stroke-width="2.0"/>
<text x="427.10" y="446.30" font-size="12" text-anchor="middle" font-weight="normal" font-style="normal" stroke="#000" stroke-width="0.5">12</text>
<line x1="445.20" y1="453.50" x2="445.20" y2="449.50" stroke="#000" stroke-width="2.0"/>
<text x="445.20" y="446.30" font-size="12" text-anchor="middle" font-weight="normal" font-style="normal" stroke="#000" stroke-width="0.5">14</text>
<line x1="463.30" y1="453.50" x2="463.30" y2="449.50" stroke="#000" stroke-width="2.0"/>
<text x="463.30" y="446.30" font-size="12" text-anchor="middle" font-weight="normal" font-style="normal" stroke="#000" stroke-width="0.5">16</text>
<text x="276.80" y="521.65" font-size="12.3" text-anchor="middle" font-weight="normal" font-style="normal" stroke="#000" stroke-width="0.5" transform="rotate(-90 276.80 521.65)">relative Mg<tspan dy="-4.2" font-size="8">2+</tspan><tspan dy="4.2" font-size="12.5"> </tspan>change</text>
<line x1="318.50" y1="453.50" x2="318.50" y2="463.50" stroke="#000" stroke-width="1.9"/>
<line x1="315.20" y1="463.50" x2="321.80" y2="463.50" stroke="#000" stroke-width="1.9"/>
<line x1="327.55" y1="453.50" x2="327.55" y2="460.50" stroke="#000" stroke-width="1.9"/>
<line x1="324.25" y1="460.50" x2="330.85" y2="460.50" stroke="#000" stroke-width="1.9"/>
<line x1="336.60" y1="453.50" x2="336.60" y2="461.20" stroke="#000" stroke-width="1.9"/>
<line x1="333.30" y1="461.20" x2="339.90" y2="461.20" stroke="#000" stroke-width="1.9"/>
<line x1="345.65" y1="453.50" x2="345.65" y2="461.20" stroke="#000" stroke-width="1.9"/>
<line x1="342.35" y1="461.20" x2="348.95" y2="461.20" stroke="#000" stroke-width="1.9"/>
<line x1="354.70" y1="453.50" x2="354.70" y2="462.20" stroke="#000" stroke-width="1.9"/>
<line x1="351.40" y1="462.20" x2="358.00" y2="462.20" stroke="#000" stroke-width="1.9"/>
<line x1="363.75" y1="453.50" x2="363.75" y2="463.30" stroke="#000" stroke-width="1.9"/>
<line x1="360.45" y1="463.30" x2="367.05" y2="463.30" stroke="#000" stroke-width="1.9"/>
<line x1="372.80" y1="453.50" x2="372.80" y2="465.00" stroke="#000" stroke-width="1.9"/>
<line x1="369.50" y1="465.00" x2="376.10" y2="465.00" stroke="#000" stroke-width="1.9"/>
<line x1="381.85" y1="453.50" x2="381.85" y2="465.80" stroke="#000" stroke-width="1.9"/>
<line x1="378.55" y1="465.80" x2="385.15" y2="465.80" stroke="#000" stroke-width="1.9"/>
<line x1="390.90" y1="453.50" x2="390.90" y2="466.90" stroke="#000" stroke-width="1.9"/>
<line x1="387.60" y1="466.90" x2="394.20" y2="466.90" stroke="#000" stroke-width="1.9"/>
<line x1="399.95" y1="453.50" x2="399.95" y2="467.50" stroke="#000" stroke-width="1.9"/>
<line x1="396.65" y1="467.50" x2="403.25" y2="467.50" stroke="#000" stroke-width="1.9"/>
<line x1="409.00" y1="453.50" x2="409.00" y2="469.60" stroke="#000" stroke-width="1.9"/>
<line x1="405.70" y1="469.60" x2="412.30" y2="469.60" stroke="#000" stroke-width="1.9"/>
<line x1="418.05" y1="453.50" x2="418.05" y2="471.70" stroke="#000" stroke-width="1.9"/>
<line x1="414.75" y1="471.70" x2="421.35" y2="471.70" stroke="#000" stroke-width="1.9"/>
<line x1="427.10" y1="453.50" x2="427.10" y2="473.75" stroke="#000" stroke-width="1.9"/>
<line x1="423.80" y1="473.75" x2="430.40" y2="473.75" stroke="#000" stroke-width="1.9"/>
<line x1="436.15" y1="453.50" x2="436.15" y2="475.00" stroke="#000" stroke-width="1.9"/>
<line x1="432.85" y1="475.00" x2="439.45" y2="475.00" stroke="#000" stroke-width="1.9"/>
<line x1="445.20" y1="453.50" x2="445.20" y2="477.50" stroke="#000" stroke-width="1.9"/>
<line x1="441.90" y1="477.50" x2="448.50" y2="477.50" stroke="#000" stroke-width="1.9"/>
<line x1="454.25" y1="453.50" x2="454.25" y2="478.75" stroke="#000" stroke-width="1.9"/>
<line x1="450.95" y1="478.75" x2="457.55" y2="478.75" stroke="#000" stroke-width="1.9"/>
<line x1="463.30" y1="453.50" x2="463.30" y2="481.25" stroke="#000" stroke-width="1.9"/>
<line x1="460.00" y1="481.25" x2="466.60" y2="481.25" stroke="#000" stroke-width="1.9"/>
<line x1="399.95" y1="503.00" x2="399.95" y2="512.50" stroke="#000" stroke-width="1.9"/>
<line x1="396.05" y1="503.00" x2="403.85" y2="503.00" stroke="#000" stroke-width="1.9"/>
<line x1="396.05" y1="512.50" x2="403.85" y2="512.50" stroke="#000" stroke-width="1.9"/>
<line x1="409.00" y1="511.20" x2="409.00" y2="523.60" stroke="#000" stroke-width="1.9"/>
<line x1="405.70" y1="511.20" x2="412.30" y2="511.20" stroke="#000" stroke-width="1.9"/>
<line x1="405.70" y1="523.60" x2="412.30" y2="523.60" stroke="#000" stroke-width="1.9"/>
<line x1="418.05" y1="520.60" x2="418.05" y2="530.80" stroke="#000" stroke-width="1.9"/>
<line x1="414.75" y1="520.60" x2="421.35" y2="520.60" stroke="#000" stroke-width="1.9"/>
<line x1="414.75" y1="530.80" x2="421.35" y2="530.80" stroke="#000" stroke-width="1.9"/>
<line x1="427.10" y1="523.80" x2="427.10" y2="537.70" stroke="#000" stroke-width="1.9"/>
<line x1="423.80" y1="523.80" x2="430.40" y2="523.80" stroke="#000" stroke-width="1.9"/>
<line x1="423.80" y1="537.70" x2="430.40" y2="537.70" stroke="#000" stroke-width="1.9"/>
<line x1="436.15" y1="533.70" x2="436.15" y2="548.00" stroke="#000" stroke-width="1.9"/>
<line x1="432.85" y1="533.70" x2="439.45" y2="533.70" stroke="#000" stroke-width="1.9"/>
<line x1="432.85" y1="548.00" x2="439.45" y2="548.00" stroke="#000" stroke-width="1.9"/>
<line x1="445.20" y1="536.50" x2="445.20" y2="551.00" stroke="#000" stroke-width="1.9"/>
<line x1="441.90" y1="536.50" x2="448.50" y2="536.50" stroke="#000" stroke-width="1.9"/>
<line x1="441.90" y1="551.00" x2="448.50" y2="551.00" stroke="#000" stroke-width="1.9"/>
<line x1="454.25" y1="538.60" x2="454.25" y2="554.40" stroke="#000" stroke-width="1.9"/>
<line x1="450.95" y1="538.60" x2="457.55" y2="538.60" stroke="#000" stroke-width="1.9"/>
<line x1="450.95" y1="554.40" x2="457.55" y2="554.40" stroke="#000" stroke-width="1.9"/>
<line x1="463.30" y1="544.50" x2="463.30" y2="560.80" stroke="#000" stroke-width="1.9"/>
<line x1="460.00" y1="544.50" x2="466.60" y2="544.50" stroke="#000" stroke-width="1.9"/>
<line x1="460.00" y1="560.80" x2="466.60" y2="560.80" stroke="#000" stroke-width="1.9"/>
<line x1="318.50" y1="454.90" x2="463.00" y2="553.40" stroke="#000" stroke-width="2.0"/>
<rect x="314.70" y="449.70" width="7.60" height="7.60" fill="#000"/>
<rect x="323.75" y="449.70" width="7.60" height="7.60" fill="#000"/>
<rect x="332.80" y="449.70" width="7.60" height="7.60" fill="#000"/>
<rect x="341.85" y="449.70" width="7.60" height="7.60" fill="#000"/>
<rect x="350.90" y="449.70" width="7.60" height="7.60" fill="#000"/>
<rect x="359.95" y="449.70" width="7.60" height="7.60" fill="#000"/>
<rect x="369.00" y="449.70" width="7.60" height="7.60" fill="#000"/>
<rect x="378.05" y="449.70" width="7.60" height="7.60" fill="#000"/>
<rect x="387.10" y="449.70" width="7.60" height="7.60" fill="#000"/>
<rect x="396.15" y="449.70" width="7.60" height="7.60" fill="#000"/>
<rect x="405.20" y="449.70" width="7.60" height="7.60" fill="#000"/>
<rect x="414.25" y="449.70" width="7.60" height="7.60" fill="#000"/>
<rect x="423.30" y="449.70" width="7.60" height="7.60" fill="#000"/>
<rect x="432.35" y="449.70" width="7.60" height="7.60" fill="#000"/>
<rect x="441.40" y="449.70" width="7.60" height="7.60" fill="#000"/>
<rect x="450.45" y="449.70" width="7.60" height="7.60" fill="#000"/>
<rect x="459.50" y="449.70" width="7.60" height="7.60" fill="#000"/>
<rect x="324.95" y="465.20" width="5.20" height="5.20" fill="#fff" stroke="#000" stroke-width="1.9"/>
<rect x="334.00" y="475.60" width="5.20" height="5.20" fill="#fff" stroke="#000" stroke-width="1.9"/>
<rect x="343.05" y="476.20" width="5.20" height="5.20" fill="#fff" stroke="#000" stroke-width="1.9"/>
<rect x="352.10" y="473.50" width="5.20" height="5.20" fill="#fff" stroke="#000" stroke-width="1.9"/>
<rect x="361.15" y="475.60" width="5.20" height="5.20" fill="#fff" stroke="#000" stroke-width="1.9"/>
<rect x="370.20" y="478.90" width="5.20" height="5.20" fill="#fff" stroke="#000" stroke-width="1.9"/>
<rect x="379.25" y="488.10" width="5.20" height="5.20" fill="#fff" stroke="#000" stroke-width="1.9"/>
<rect x="388.30" y="493.60" width="5.20" height="5.20" fill="#fff" stroke="#000" stroke-width="1.9"/>
<rect x="397.35" y="504.20" width="5.20" height="5.20" fill="#fff" stroke="#000" stroke-width="1.9"/>
<rect x="406.40" y="513.60" width="5.20" height="5.20" fill="#fff" stroke="#000" stroke-width="1.9"/>
<rect x="415.45" y="522.20" width="5.20" height="5.20" fill="#fff" stroke="#000" stroke-width="1.9"/>
<rect x="424.50" y="527.20" width="5.20" height="5.20" fill="#fff" stroke="#000" stroke-width="1.9"/>
<rect x="433.55" y="537.70" width="5.20" height="5.20" fill="#fff" stroke="#000" stroke-width="1.9"/>
<rect x="442.60" y="540.70" width="5.20" height="5.20" fill="#fff" stroke="#000" stroke-width="1.9"/>
<rect x="451.65" y="544.40" width="5.20" height="5.20" fill="#fff" stroke="#000" stroke-width="1.9"/>
<rect x="460.70" y="549.70" width="5.20" height="5.20" fill="#fff" stroke="#000" stroke-width="1.9"/>
<path d="M473.75,451.25 Q478.35,451.25 478.35,455.85 L478.35,497.90 Q478.35,502.50 482.95,502.50 Q478.35,502.50 478.35,507.10 L478.35,549.15 Q478.35,553.75 473.75,553.75" fill="none" stroke="#000" stroke-width="2"/>
<text x="493.20" y="503.50" font-size="12" text-anchor="start" font-weight="normal" font-style="normal" stroke="#000" stroke-width="0.5"><tspan font-style="italic">P</tspan> =</text>
<text x="484.10" y="517.50" font-size="12" text-anchor="start" font-weight="normal" font-style="normal" stroke="#000" stroke-width="0.5">0.0001</text>
</svg></body></html>
